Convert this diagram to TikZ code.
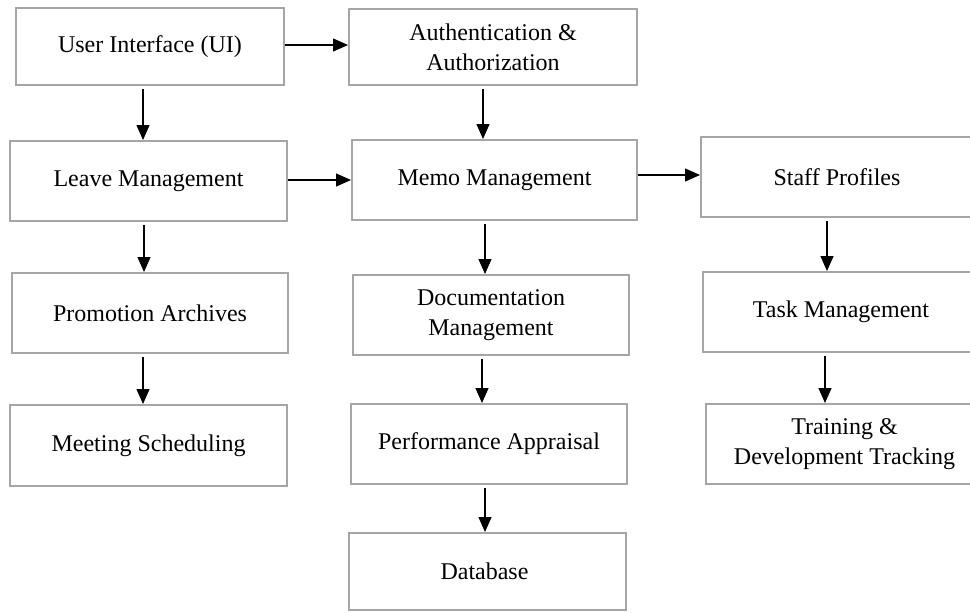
\documentclass[tikz,border=0pt]{standalone}
\usepackage{fontspec}
\setmainfont{Liberation Serif}
\usetikzlibrary{arrows.meta}
\definecolor{boxgray}{HTML}{A6A6A6}
\tikzset{
  box/.style={draw=boxgray, line width=1pt, align=center, inner sep=2pt,
    font=\fontsize{12}{15}\selectfont},
  arr/.style={-{Triangle[length=7.5pt,width=6.5pt]}, line width=0.6pt}
}

\begin{document}
\begin{tikzpicture}[x=0.5pt,y=-0.5pt]
    \useasboundingbox (0,0) rectangle (970,612);

    % Bloques
    \foreach \n/\x/\y/\w/\h/\txt in {
        ui/150/46.5/268/77/User Interface (UI),
        auth/493/47/288/76/Authentication \&\\Authorization,
        leave/148.5/181/277/80/Leave Management,
        memo/494.5/180/285/80/Memo Management,
        staff/837/177/272/80/Staff Profiles,
        promo/150/313/276/80/Promotion Archives,
        docs/491/315/276/80/Documentation\\Management,
        task/841/312/276/80/Task Management,
        meet/148.5/445.5/277/81/Meeting Scheduling,
        perf/489/444/276/80/Performance Appraisal,
        train/844.5/444/277/80/Training \&\\Development Tracking,
        db/487.5/571.5/277/77/Database
        } {
        \node[box, minimum width=\w*0.5pt, minimum height=\h*0.5pt] (\n) at (\x,\y) {\txt};
    }

    % Flechas verticales
    \foreach \a/\b/\s in {
        ui/leave/-3.5, leave/promo/-2.25, promo/meet/-3.5,
        auth/memo/-5, memo/docs/-4.75, docs/perf/-4.5, perf/db/-2,
        staff/task/-5, task/train/-8
        } {
        \draw[arr] ([xshift=\s pt, yshift=-1.5pt]\a.south) -- ([xshift=\s pt]\a.south |- \b.north);
    }

    % Flechas horizontales
    \foreach \a/\b/\s in {ui/auth/0.75, leave/memo/0.5, memo/staff/2.5} {
        \draw[arr] ([yshift=\s pt]\a.east) -- ([yshift=\s pt]\a.east -| \b.west);
    }
\end{tikzpicture}
\end{document}
